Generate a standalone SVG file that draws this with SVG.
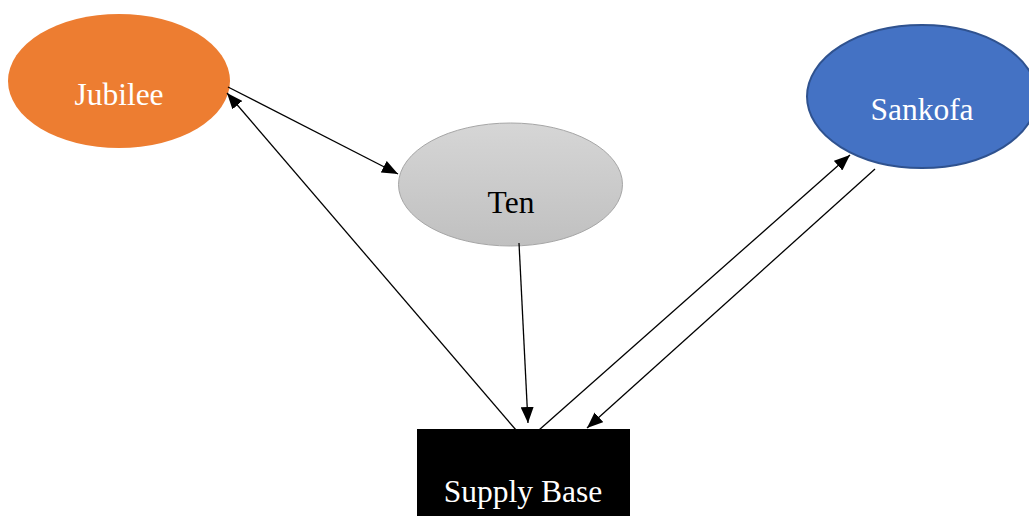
<svg xmlns="http://www.w3.org/2000/svg" width="1029" height="516" viewBox="0 0 1029 516">
  <style>
    .lbl { font-family: "Liberation Serif", "Times New Roman", serif; font-size: 31.5px; text-anchor: middle; }
    .w { fill: #ffffff; }
    .k { fill: #000000; }
    .edge { stroke: #000000; stroke-width: 1.3; fill: none; marker-end: url(#arrow); }
  </style>
  <defs>
    <marker id="arrow" markerUnits="userSpaceOnUse" markerWidth="17" markerHeight="13" refX="16" refY="6.5" orient="auto">
      <path d="M0,0 L16,6.5 L0,13 z" fill="#000000"/>
    </marker>
    <linearGradient id="grey" x1="0" y1="0" x2="0" y2="1">
      <stop offset="0" stop-color="#d6d6d6"/>
      <stop offset="1" stop-color="#c0c0c0"/>
    </linearGradient>
  </defs>
  <rect width="1029" height="516" fill="#ffffff"/>

  <g id="jubilee">
    <ellipse cx="119" cy="81" rx="111" ry="67" fill="#ed7d31"/>
    <text class="lbl w" x="119" y="105">Jubilee</text>
  </g>

  <g id="ten">
    <ellipse cx="510.5" cy="184.5" rx="112" ry="61.5" fill="url(#grey)" stroke="#a6a6a6" stroke-width="1"/>
    <text class="lbl k" x="511" y="213">Ten</text>
  </g>

  <g id="sankofa">
    <ellipse cx="922" cy="96.5" rx="115" ry="71.5" fill="#4472c4" stroke="#2f528f" stroke-width="2"/>
    <text class="lbl w" x="922" y="120">Sankofa</text>
  </g>

  <g id="supply-base">
    <rect x="417" y="429" width="213" height="95" fill="#000000"/>
    <text class="lbl w" x="523" y="502">Supply Base</text>
  </g>

  <g id="connectors">
    <line class="edge" x1="228" y1="87" x2="398" y2="174"/>
    <line class="edge" x1="516" y1="430" x2="227" y2="93"/>
    <line class="edge" x1="519" y1="243" x2="528" y2="423"/>
    <line class="edge" x1="539" y1="430" x2="850" y2="155"/>
    <line class="edge" x1="875" y1="169" x2="587" y2="428"/>
  </g>
</svg>
